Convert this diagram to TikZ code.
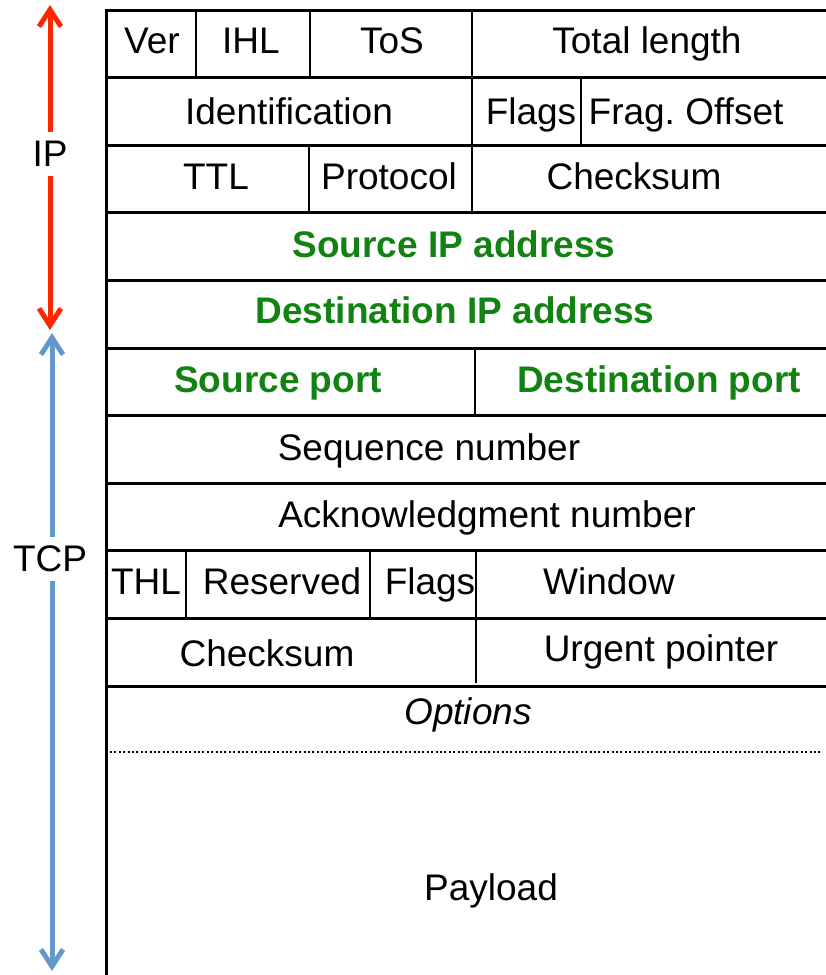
\documentclass[tikz,border=0pt]{standalone}
\usepackage{fontspec}
\setmainfont{Liberation Sans}
\usetikzlibrary{arrows.meta}
\definecolor{fieldgreen}{RGB}{18,130,18}
\definecolor{ipred}{RGB}{255,38,0}
\definecolor{tcpblue}{RGB}{100,152,205}
\frenchspacing
\tikzset{
  hline/.style={line width=3pt,black},
  vline/.style={line width=2pt,black},
  lbl/.style={anchor=base,inner sep=0pt,font=\fontsize{37}{44}\selectfont},
  glbl/.style={lbl,font=\fontsize{37}{44}\selectfont\bfseries,text=fieldgreen},
  side/.style={inner xsep=2pt,inner ysep=9pt,fill=white,font=\fontsize{37}{44}\selectfont},
  iparrow/.style={line width=5pt,ipred,{Straight Barb[length=17pt,width=22pt]}-{Straight Barb[length=17pt,width=22pt]}},
  tcparrow/.style={line width=5pt,tcpblue,{Straight Barb[length=17pt,width=22pt]}-{Straight Barb[length=17pt,width=22pt]}},
}
\begin{document}
\begin{tikzpicture}[x=1pt,y=-1pt]
\useasboundingbox (0,0) rectangle (826,975);
% horizontal lines
\foreach \yy in {10,77,145,212,280,348,415,483,550,618,686}
  \draw[hline] (106,\yy) -- (826,\yy);
% left border
\draw[hline] (106,8.5) -- (106,975);
% vertical dividers
\draw[vline] (196,10) -- (196,77);
\draw[vline] (310,10) -- (310,77);
\draw[vline] (472,10) -- (472,77);
\draw[vline] (472,77) -- (472,145);
\draw[vline] (581,77) -- (581,145);
\draw[vline] (309,145) -- (309,212);
\draw[vline] (472,145) -- (472,212);
\draw[vline] (475,348) -- (475,415);
\draw[vline] (186,550) -- (186,618);
\draw[vline] (370,550) -- (370,618);
\draw[vline] (476,552) -- (476,618);
\draw[vline] (476,618) -- (476,683);
% dotted line
\draw[line width=2pt,dash pattern=on 2pt off 2.4pt] (110,752) -- (822,752);
% labels
\node[lbl] (ver) at (152,53) {Ver};
\node[lbl] (ihl) at (251,53) {IHL};
\node[lbl] (tos) at (392,53) {ToS};
\node[lbl] (tlen) at (647,53) {Total length};
\node[lbl] (ident) at (289,124) {Identification};
\node[lbl] (ipflags) at (531,124) {Flags};
\node[lbl] (frag) at (686,124) {Frag. Offset};
\node[lbl] (ttl) at (216,189) {TTL};
\node[lbl] (proto) at (389,189) {Protocol};
\node[lbl] (ipcsum) at (634,189) {Checksum};
\node[glbl] (srcip) at (454,257) {Source IP address};
\node[glbl] (dstip) at (455,323) {Destination IP address};
\node[glbl] (srcport) at (278,392) {Source port};
\node[glbl] (dstport) at (659,392) {Destination port};
\node[lbl] (seq) at (429,460) {Sequence number};
\node[lbl] (ack) at (487,527) {Acknowledgment number};
\node[lbl] (thl) at (146,594) {THL};
\node[lbl] (resv) at (282,594) {Reserved};
\node[lbl] (tcpflags) at (430,594) {Flags};
\node[lbl] (win) at (609,594) {Window};
\node[lbl] (tcpcsum) at (267,666) {Checksum};
\node[lbl] (urg) at (661,661) {Urgent pointer};
\node[lbl,font=\fontsize{37}{44}\selectfont\itshape] (opts) at (468,724) {Options};
\node[lbl] (payload) at (491,900) {Payload};
% side arrows
\coordinate (ipTop) at (50,5);
\coordinate (ipBot) at (50,330);
\coordinate (tcpTop) at (52,333);
\coordinate (tcpBot) at (52,971);
\draw[iparrow] (ipTop) -- (ipBot);
\draw[tcparrow] (tcpTop) -- (tcpBot);
\node[side] (iplbl) at (50,154) {IP};
\node[side] (tcplbl) at (50,559) {TCP};
\end{tikzpicture}
\end{document}
